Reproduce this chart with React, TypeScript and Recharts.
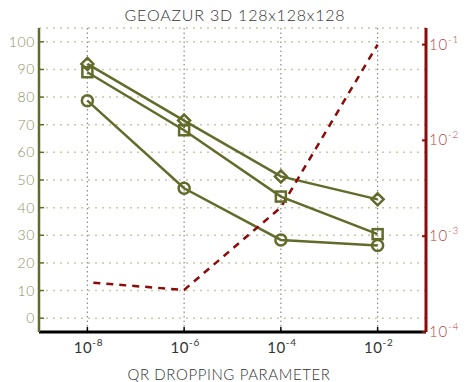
import React from "react";
import {
  ComposedChart,
  Line,
  XAxis,
  YAxis,
  CartesianGrid,
} from "recharts";

// QR dropping parameter values (x axis, log scale)
const dropParams = [1e-8, 1e-6, 1e-4, 1e-2];

// left axis series (olive)
const diamondVals = [92, 71.5, 51.3, 43];
const squareVals = [89, 68, 44, 30.4];
const circleVals = [78.7, 47, 28.3, 26.3];

// right axis series (dark red, log scale)
const ratioVals = [3.3e-4, 2.75e-4, 2.0e-3, 0.1];

const xTicks = [1e-8, 1e-6, 1e-4, 1e-2];
const leftTicks = [0, 10, 20, 30, 40, 50, 60, 70, 80, 90, 100];
const rightTicks = [1e-4, 1e-3, 1e-2, 1e-1];

const data = dropParams.map((x, i) => ({
  x,
  diamond: diamondVals[i],
  square: squareVals[i],
  circle: circleVals[i],
  ratio: ratioVals[i],
}));

const OLIVE = "#636b2b";
const OLIVE_LABEL = "#8c9160";
const RED = "#8b0a0a";
const RED_LABEL = "#b8474a";
const TEXT = "#333333";
const FONT = "Lato, 'DejaVu Sans', sans-serif";

function expOf(v: number) {
  return Math.round(Math.log10(v));
}

function XTick({ x, y, payload }: any) {
  return (
    <text x={x + 1} y={y} textAnchor="middle" fill={TEXT} fontSize={15} letterSpacing={0.6} fontFamily={FONT}>
      <tspan>10</tspan>
      <tspan dy={-7} fontSize={10}>{expOf(payload.value)}</tspan>
    </text>
  );
}

function LeftTick({ x, y, payload }: any) {
  return (
    <text x={x} y={y + 5} textAnchor="end" fill={OLIVE_LABEL} fontSize={14} fontWeight={300} letterSpacing={0.6} fontFamily={FONT}>
      {payload.value}
    </text>
  );
}

function RightTick({ x, y, payload }: any) {
  return (
    <text x={x} y={y + 5} textAnchor="start" fill={RED_LABEL} fontSize={15} fontWeight={300} letterSpacing={0.8} fontFamily={FONT}>
      <tspan>10</tspan>
      <tspan dy={-7} fontSize={10}>{expOf(payload.value)}</tspan>
    </text>
  );
}

function Diamond({ cx, cy }: any) {
  if (cx == null || cy == null) return <g />;
  const s = 6;
  return (
    <path
      d={`M${cx},${cy - s} L${cx + s},${cy} L${cx},${cy + s} L${cx - s},${cy} Z`}
      fill="none"
      stroke={OLIVE}
      strokeWidth={2.5}
    />
  );
}

function Square({ cx, cy }: any) {
  if (cx == null || cy == null) return <g />;
  const s = 5;
  return (
    <rect x={cx - s} y={cy - s} width={s * 2} height={s * 2} fill="none" stroke={OLIVE} strokeWidth={2.5} />
  );
}

function Circle({ cx, cy }: any) {
  if (cx == null || cy == null) return <g />;
  return <circle cx={cx} cy={cy} r={5.5} fill="none" stroke={OLIVE} strokeWidth={2.5} />;
}

export default function App() {
  return (
    <div style={{ position: "absolute", left: 0, top: 0, width: 466, height: 382, background: "#fff" }}>
      <svg width={466} height={382} style={{ position: "absolute", left: 0, top: 0 }}>
        <text x={235} y={21} textAnchor="middle" fill={TEXT} fontSize={16} fontWeight={300} letterSpacing={0.8} fontFamily={FONT}>
          GEOAZUR 3D 128x128x128
        </text>
        <text x={229} y={380} textAnchor="middle" fill={TEXT} fontSize={15} fontWeight={300} letterSpacing={0.6} fontFamily={FONT}>
          QR DROPPING PARAMETER
        </text>
      </svg>
      <div style={{ position: "absolute", left: 0, top: 0 }}>
        <ComposedChart
          width={466}
          height={382}
          data={data}
          margin={{ top: 28, right: 0, bottom: 0, left: 0 }}
          style={{ fontFamily: FONT }}
        >
          <CartesianGrid
            yAxisId="left"
            horizontal={true}
            vertical={false}
            stroke="#c8c9a6"
            strokeWidth={1.5}
            strokeDasharray="2 5"
          />
          <CartesianGrid
            yAxisId="left"
            horizontal={false}
            vertical={true}
            stroke="#8a8a8a"
            strokeWidth={1.2}
            strokeDasharray="1.5 3"
          />

          <XAxis
            dataKey="x"
            type="number"
            scale="log"
            domain={[1e-9, 1e-1]}
            ticks={xTicks}
            interval={0}
            allowDataOverflow
            height={50}
            axisLine={{ stroke: "#000", strokeWidth: 3 }}
            tickLine={{ stroke: "#000", strokeWidth: 1.5 }}
            tickSize={-5}
            tickMargin={26}
            tick={<XTick />}
          />
          <XAxis
            xAxisId="top"
            dataKey="x"
            orientation="top"
            type="number"
            scale="log"
            domain={[1e-9, 1e-1]}
            ticks={xTicks}
            interval={0}
            allowDataOverflow
            height={0}
            axisLine={{ stroke: "#000", strokeWidth: 3 }}
            tickLine={{ stroke: "#000", strokeWidth: 1.5 }}
            tickSize={-5}
            tick={false}
          />
          <YAxis
            yAxisId="left"
            type="number"
            domain={[-5, 105]}
            ticks={leftTicks}
            interval={0}
            allowDataOverflow
            width={39}
            axisLine={{ stroke: OLIVE, strokeWidth: 2.5 }}
            tickLine={{ stroke: OLIVE, strokeWidth: 1.5 }}
            tickSize={-5}
            tickMargin={9}
            tick={<LeftTick />}
          />
          <YAxis
            yAxisId="right"
            orientation="right"
            type="number"
            scale="log"
            domain={[1e-4, 0.149]}
            ticks={rightTicks}
            interval={0}
            allowDataOverflow
            width={40}
            axisLine={{ stroke: RED, strokeWidth: 3 }}
            tickLine={{ stroke: RED, strokeWidth: 2 }}
            tickSize={-4}
            tickMargin={7}
            tick={<RightTick />}
          />

          <Line
            yAxisId="left"
            dataKey="diamond"
            type="linear"
            stroke={OLIVE}
            strokeWidth={2.5}
            dot={<Diamond />}
            isAnimationActive={false}
          />
          <Line
            yAxisId="left"
            dataKey="square"
            type="linear"
            stroke={OLIVE}
            strokeWidth={2.5}
            dot={<Square />}
            isAnimationActive={false}
          />
          <Line
            yAxisId="left"
            dataKey="circle"
            type="linear"
            stroke={OLIVE}
            strokeWidth={2.5}
            dot={<Circle />}
            isAnimationActive={false}
          />
          <Line
            yAxisId="right"
            dataKey="ratio"
            type="linear"
            stroke={RED}
            strokeWidth={2.5}
            strokeDasharray="7 6"
            strokeDashoffset={7}
            dot={false}
            isAnimationActive={false}
          />
        </ComposedChart>
      </div>
    </div>
  );
}
